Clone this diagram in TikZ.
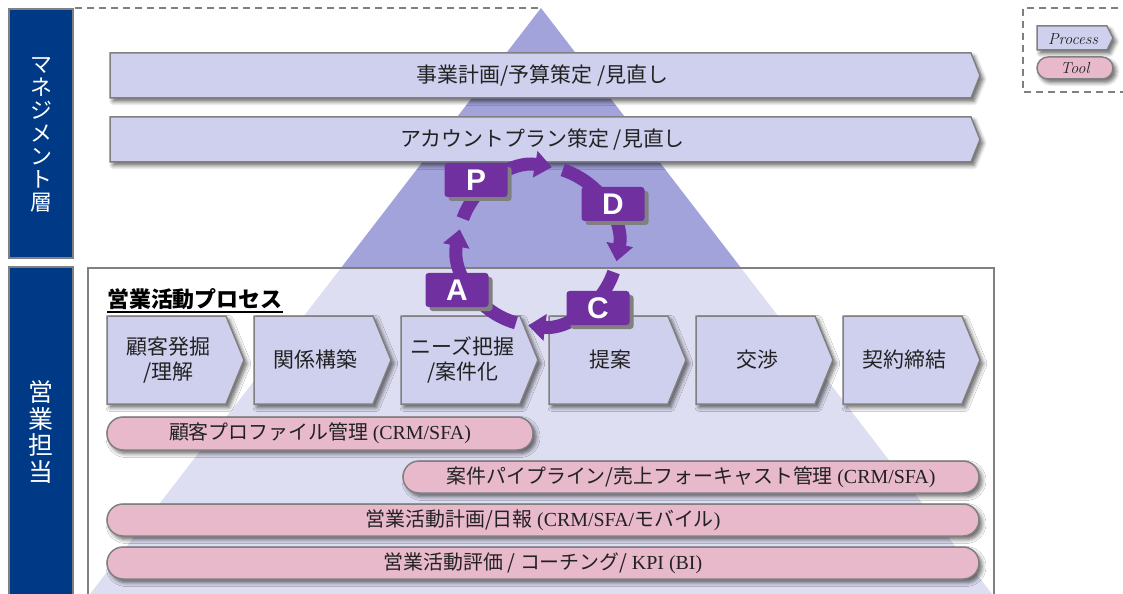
\documentclass[tikz,border=0pt]{standalone}
\usepackage{fontspec}
\newfontfamily\jp{Noto Sans CJK JP}
\newfontfamily\lat{Liberation Serif}
\newfontfamily\sansb{Liberation Sans}
\usetikzlibrary{arrows.meta,shadows,shadows.blur}
\definecolor{chevfill}{RGB}{207,207,238}
\definecolor{pillfill}{RGB}{232,184,203}
\definecolor{edgegray}{RGB}{128,128,128}
\definecolor{pyr}{RGB}{163,163,220}
\definecolor{navy}{RGB}{0,58,135}
\definecolor{pdca}{RGB}{112,48,160}
\definecolor{txt}{RGB}{34,34,34}
\tikzset{
  softshadow/.style={blur shadow={shadow xshift=3bp, shadow yshift=-3.5bp, shadow blur radius=4bp, shadow blur steps=6, shadow opacity=60}},
  chev/.style={fill=chevfill, draw=edgegray, line width=1.5bp, softshadow},
  chevtext/.style={text=txt, align=center, inner sep=0pt, font=\jp\fontsize{21}{25}\selectfont},
  pill/.style={rectangle, rounded corners=16bp, fill=pillfill, draw=edgegray, line width=1.5bp, softshadow, text=txt, inner sep=0pt, font=\jp\fontsize{20}{24}\selectfont},
  barbox/.style={rectangle, fill=navy, draw=edgegray, line width=1.5bp, inner sep=0pt},
  bartext/.style={text=white, align=center, inner sep=0pt},
  dashline/.style={draw=edgegray, line width=1.5bp, dash pattern=on 7bp off 5bp},
  cycarrow/.style={draw=pdca, line width=13bp, -{Triangle[width=26bp,length=17bp]}},
  pbox/.style={rectangle, rounded corners=3bp, fill=pdca, minimum width=63bp, minimum height=34bp, inner sep=0pt, text=white, font=\sansb\bfseries\fontsize{30}{30}\selectfont, drop shadow={shadow xshift=4bp, shadow yshift=-4bp, fill=black!50, opacity=1}},
}
\newcommand\chevron[7]{%
  \draw[chev] (#2,#3) -- (#4,#3) -- (#6,{(#3+#5)/2}) -- (#4,#5) -- (#2,#5) -- cycle;
  \node[chevtext] (#1) at ({(#2+#4)/2+2},{(#3+#5)/2}) {#7};}
\begin{document}
\begin{tikzpicture}[x=1bp,y=-1bp]
\useasboundingbox (0,0) rectangle (1123,594);
% pyramid
\coordinate (apex) at (541,8);
\fill[pyr] (apex) -- (70,620) -- (1012,620) -- cycle;
% lower frame (semi-transparent white)
\draw[draw=edgegray, line width=1.5bp, fill=white, fill opacity=0.65] (88,268) rectangle (994,640);
% dashed lines
\coordinate (dl) at (75,8);
\draw[dashline] (dl) -- (apex);
\draw[dashline] (1130,8) -- (1023,8) -- (1023,92) -- (1130,92);
% left bars
\node[barbox, minimum width=64bp, minimum height=249bp] (mgmt) at (41,133.5) {};
\node[bartext, font=\jp\fontsize{22}{23}\selectfont] (mgmtt) at (41,135) {マ\\ネ\\ジ\\メ\\ン\\ト\\層};
\node[barbox, minimum width=64bp, minimum height=360bp] (sales) at (41,447) {};
\node[bartext, font=\jp\fontsize{25}{26.5}\selectfont] (salest) at (41,432) {営\\業\\担\\当};
% management chevrons
\chevron{plan}{110}{53}{971}{98}{980}{事業計画/予算策定 /見直し}
\chevron{acct}{110}{117}{971}{162}{980}{アカウントプラン策定 /見直し}
% label
\node[anchor=base west, inner sep=0pt, text=black, font=\jp\bfseries\fontsize{22}{22}\selectfont] (lbl) at (107,308) {営業活動プロセス};
\draw[line width=1.2bp] ([yshift=-4bp]lbl.base west) -- ([yshift=-4bp]lbl.base east);
% process chevrons
\chevron{s1}{107}{316}{226}{404}{244}{顧客発掘\\/理解}
\chevron{s2}{254}{316}{373}{404}{391}{関係構築}
\chevron{s3}{401}{316}{520}{404}{538}{ニーズ把握\\/案件化}
\chevron{s4}{549}{316}{668}{404}{686}{提案}
\chevron{s5}{696}{316}{815}{404}{833}{交渉}
\chevron{s6}{843}{316}{962}{404}{980}{契約締結}
% tool pills
\node[pill, minimum width=426bp, minimum height=33bp] (t1) at (320,433.5) {顧客プロファイル管理 {\lat (CRM/SFA)}};
\node[pill, minimum width=576bp, minimum height=32bp] (t2) at (691,477) {案件パイプライン/売上フォーキャスト管理 {\lat (CRM/SFA)}};
\node[pill, minimum width=872bp, minimum height=32bp] (t3) at (543,520) {営業活動計画/日報 {\lat (CRM/SFA/}モバイル{\lat )}};
\node[pill, minimum width=872bp, minimum height=32bp] (t4) at (543,563) {営業活動評価 / コーチング/ {\lat KPI (BI)}};
% PDCA cycle
\coordinate (cyc) at (538,246);
\draw[cycarrow] ([shift={(-160:80)}]cyc) arc[start angle=-160, end angle=-80, radius=80];
\draw[cycarrow] ([shift={(-72:80)}]cyc) arc[start angle=-72, end angle=11, radius=80];
\draw[cycarrow] ([shift={(19:80)}]cyc) arc[start angle=19, end angle=97, radius=80];
\draw[cycarrow] ([shift={(106:80)}]cyc) arc[start angle=106, end angle=192, radius=80];
\node[pbox] (P) at (476,180) {P};
\node[pbox] (D) at (613,204) {D};
\node[pbox] (C) at (598,308) {C};
\node[pbox] (A) at (457,290) {A};
% legend
\draw[chev] (1037,26) -- (1107,26) -- (1113,38) -- (1107,50) -- (1037,50) -- cycle;
\node[text=txt, inner sep=0pt, font=\itshape\fontsize{16}{16}\selectfont] (lp) at (1073,39) {Process};
\node[pill, rounded corners=11bp, minimum width=76bp, minimum height=22bp, font=\itshape\fontsize{16}{16}\selectfont] (lt) at (1075,68) {Tool};
\end{tikzpicture}
\end{document}
